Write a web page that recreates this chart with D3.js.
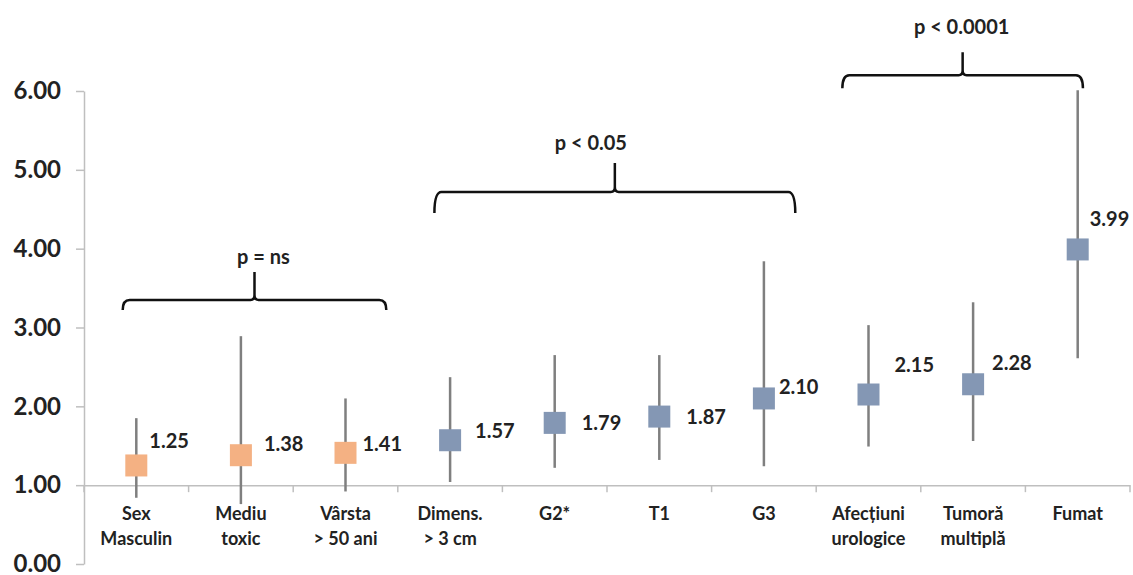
<html>
<head>
<meta charset="utf-8">
<script src="https://d3js.org/d3.v7.min.js"></script>
<style>
  body { margin: 0; background: #ffffff; }
  text { font-family: Lato, 'Open Sans', sans-serif; font-weight: bold; fill: #222; }
</style>
</head>
<body>
<svg width="1133" height="575"></svg>
<script>
// data
var categories = [['Sex', 'Masculin'], ['Mediu', 'toxic'], ['Vârsta', '> 50 ani'], ['Dimens.', '> 3 cm'],
                  ['G2*'], ['T1'], ['G3'], ['Afecțiuni', 'urologice'], ['Tumoră', 'multiplă'], ['Fumat']];
var oddsRatio = [1.25, 1.38, 1.41, 1.57, 1.79, 1.87, 2.10, 2.15, 2.28, 3.99];
var ciLow  = [0.84, 0.76, 0.92, 1.04, 1.22, 1.32, 1.24, 1.49, 1.56, 2.61];
var ciHigh = [1.85, 2.89, 2.10, 2.37, 2.65, 2.65, 3.84, 3.03, 3.32, 6.01];
var group  = ['ns', 'ns', 'ns', 'sig', 'sig', 'sig', 'sig', 'sig', 'sig', 'sig'];
var yTicks = [0, 1, 2, 3, 4, 5, 6];

// brackets: label, first / last category (fractional index), level in axis units
var bracketLabels = ['p = ns', 'p < 0.05', 'p < 0.0001'];
var bracketFrom   = [-0.13, 2.85, 6.75];
var bracketTo     = [2.39, 6.30, 9.05];
var bracketLevel  = [3.35, 4.72, 6.20];

// hand-placed label nudges (pixels), as in the original
var labelDx = [13, 23, 17, 25, 27, 27, 15, 26, 19, 12];
var labelDy = [-25, -11, -9, -9, 0, 0, -12, -30, -21, -31];
var bracketDrop  = [10, 21, 13];
var bracketSpike = [28, 29, 23];
var bracketTextDx = [9, -24, -1];
var bracketTextGap = [15, 20, 25];

var plotLeft = 84, plotRight = 1130, plotTop = 91, plotBottom = 564;
var colors = { ns: '#F4B183', sig: '#8497B4' };

var svg = d3.select('svg');
var idx = d3.range(categories.length);
var x = d3.scaleBand().domain(idx).range([plotLeft, plotRight]);
var xc = d3.scaleLinear().domain([-0.5, categories.length - 0.5]).range([plotLeft, plotRight]);
var y = d3.scaleLinear().domain([0, 6]).range([plotBottom, plotTop]);

// y axis
var yAxis = svg.append('g')
  .attr('transform', 'translate(' + plotLeft + ',0)')
  .call(d3.axisLeft(y).tickValues(yTicks).tickFormat(d3.format('.2f')).tickSize(8).tickSizeOuter(0).tickPadding(15));
yAxis.selectAll('path, line').attr('stroke', '#BFBFBF').attr('stroke-width', 1.5);
yAxis.selectAll('text').style('font-size', '24px').attr('fill', '#222');

// x axis crossing at 1.00
var xAxis = svg.append('g')
  .attr('transform', 'translate(0,' + y(1) + ')')
  .call(d3.axisBottom(x).tickSize(0).tickFormat(''));
xAxis.select('path').attr('stroke', '#BFBFBF').attr('stroke-width', 1.5);
xAxis.selectAll('.sep')
  .data(d3.range(categories.length + 1))
  .enter().append('line')
  .attr('class', 'sep')
  .attr('x1', function (d) { return xc(d - 0.5); })
  .attr('x2', function (d) { return xc(d - 0.5); })
  .attr('y1', 0).attr('y2', 7)
  .attr('stroke', '#BFBFBF').attr('stroke-width', 1.5);

// category labels
var cat = svg.append('g').selectAll('text')
  .data(idx).enter().append('text')
  .attr('x', function (i) { return x(i) + x.bandwidth() / 2; })
  .attr('y', y(1) + 35)
  .attr('text-anchor', 'middle')
  .style('font-size', '18px');
cat.selectAll('tspan')
  .data(function (i) { return categories[i]; })
  .enter().append('tspan')
  .attr('x', function () { return d3.select(this.parentNode).attr('x'); })
  .attr('dy', function (d, j) { return j ? 25 : 0; })
  .text(function (d) { return d; });

// confidence intervals
svg.append('g').selectAll('line')
  .data(idx).enter().append('line')
  .attr('x1', function (i) { return x(i) + x.bandwidth() / 2; })
  .attr('x2', function (i) { return x(i) + x.bandwidth() / 2; })
  .attr('y1', function (i) { return y(ciLow[i]); })
  .attr('y2', function (i) { return y(ciHigh[i]); })
  .attr('stroke', '#7F7F7F').attr('stroke-width', 2.5);

// markers
var s = 22;
svg.append('g').selectAll('rect')
  .data(idx).enter().append('rect')
  .attr('x', function (i) { return x(i) + x.bandwidth() / 2 - s / 2; })
  .attr('y', function (i) { return y(oddsRatio[i]) - s / 2; })
  .attr('width', s).attr('height', s)
  .attr('fill', function (i) { return colors[group[i]]; });

// value labels
svg.append('g').selectAll('text')
  .data(idx).enter().append('text')
  .attr('x', function (i) { return x(i) + x.bandwidth() / 2 + labelDx[i]; })
  .attr('y', function (i) { return y(oddsRatio[i]) + labelDy[i]; })
  .attr('dy', '0.36em')
  .style('font-size', '20px')
  .text(function (i) { return oddsRatio[i].toFixed(2); });

// significance brackets
var b = svg.append('g');
bracketLabels.forEach(function (lab, k) {
  var x0 = xc(bracketFrom[k]), x1 = xc(bracketTo[k]), yt = y(bracketLevel[k]);
  var xm = (x0 + x1) / 2, r = 7;
  var p = d3.path();
  p.moveTo(x0, yt + bracketDrop[k]);
  p.quadraticCurveTo(x0, yt, x0 + r, yt);
  p.lineTo(xm - 4, yt);
  p.quadraticCurveTo(xm, yt, xm, yt - 5);
  p.lineTo(xm, yt - bracketSpike[k]);
  p.moveTo(xm, yt - 5);
  p.quadraticCurveTo(xm, yt, xm + 4, yt);
  p.lineTo(x1 - r, yt);
  p.quadraticCurveTo(x1, yt, x1, yt + bracketDrop[k]);
  b.append('path').attr('d', p.toString())
    .attr('fill', 'none').attr('stroke', '#111').attr('stroke-width', 2.5);
  b.append('text')
    .attr('x', xm + bracketTextDx[k])
    .attr('y', yt - bracketSpike[k] - bracketTextGap[k])
    .attr('dy', '0.36em')
    .attr('text-anchor', 'middle')
    .style('font-size', '20px')
    .text(lab);
});
</script>
</body>
</html>
